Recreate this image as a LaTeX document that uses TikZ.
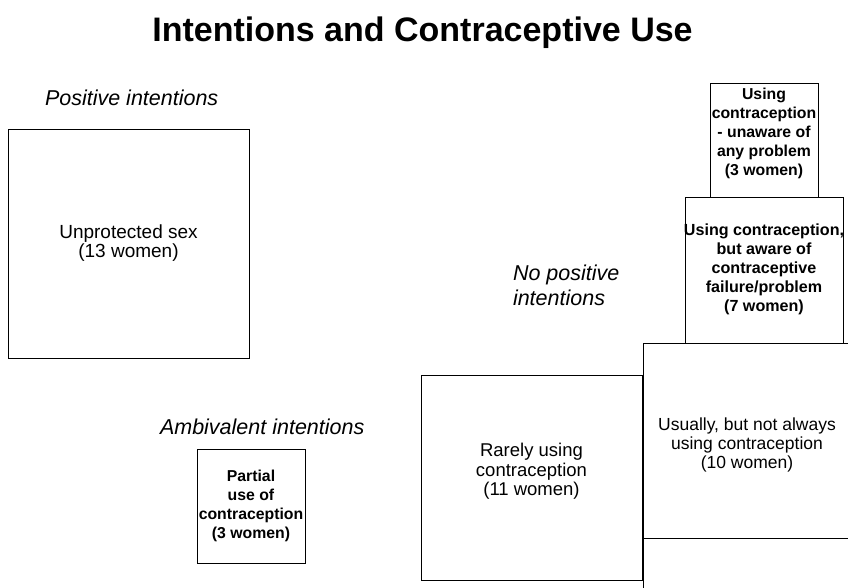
\documentclass[tikz,border=0pt]{standalone}
\usepackage{fontspec}
\setmainfont{Liberation Sans}
\begin{document}
\begin{tikzpicture}[x=1pt,y=-1pt,
  frame/.style={draw, line width=1pt, inner sep=0pt, outer sep=0pt},
  boxtext/.style={inner sep=0pt, align=center, font=\fontsize{17.5}{19}\selectfont},
  smalltext/.style={boxtext, font=\bfseries\fontsize{15.8}{19}\selectfont},
  heading/.style={font=\itshape\fontsize{21.5}{25}\selectfont, inner sep=0pt, outer sep=0pt, align=left},
  titletext/.style={font=\bfseries\fontsize{34}{40}\selectfont, inner sep=0pt},
]
\useasboundingbox (0,0) rectangle (848,587);
\clip (0,0) rectangle (848,587);

% title
\node[titletext, anchor=base] (title) at (422.5,41) {Intentions and Contraceptive Use};

% group headings
\node[heading, anchor=base west] (posint) at (45,105) {Positive intentions};
\node[heading, anchor=base west] (ambint) at (160,434) {Ambivalent intentions};
\node[heading, anchor=north west] (noint) at (513,264.5) {No positive\\intentions};

% positive intentions
\node[frame, minimum width=241, minimum height=229] (unprot) at (128.5,243.5) {};
\node[boxtext, font=\fontsize{19}{19}\selectfont] (unprottxt) at (unprot.center)
  {Unprotected sex\\(13 women)};

% ambivalent intentions
\node[frame, minimum width=108, minimum height=114] (partial) at (251,506) {};
\node[smalltext] (partialtxt) at (partial.center)
  {Partial\\use of\\contraception\\(3 women)};

% no positive intentions: stacked boxes
\node[frame, minimum width=108, minimum height=114] (unaware) at (764,140) {};
\node[smalltext] (unawaretxt) at ([yshift=7pt]unaware.center)
  {Using\\contraception\\- unaware of\\any problem\\(3 women)};

\node[frame, minimum width=158, minimum height=146] (aware) at (764,270) {};
\node[smalltext, font=\bfseries\fontsize{16.1}{19}\selectfont] (awaretxt) at ([yshift=1pt]aware.center)
  {Using contraception,\\but aware of\\contraceptive\\failure/problem\\(7 women)};

\node[frame, minimum width=208, minimum height=195] (usually) at (747,440.5) {};
\node[boxtext] (usuallytxt) at ([yshift=-4pt]usually.center)
  {Usually, but not always\\using contraception\\(10 women)};

\node[frame, minimum width=208, minimum height=100] (lower) at (747,588) {};

\node[frame, minimum width=221, minimum height=205] (rarely) at (531.5,477.5) {};
\node[boxtext, font=\fontsize{18.5}{19.5}\selectfont] (rarelytxt) at ([yshift=6pt]rarely.center)
  {Rarely using\\contraception\\(11 women)};
\end{tikzpicture}
\end{document}
